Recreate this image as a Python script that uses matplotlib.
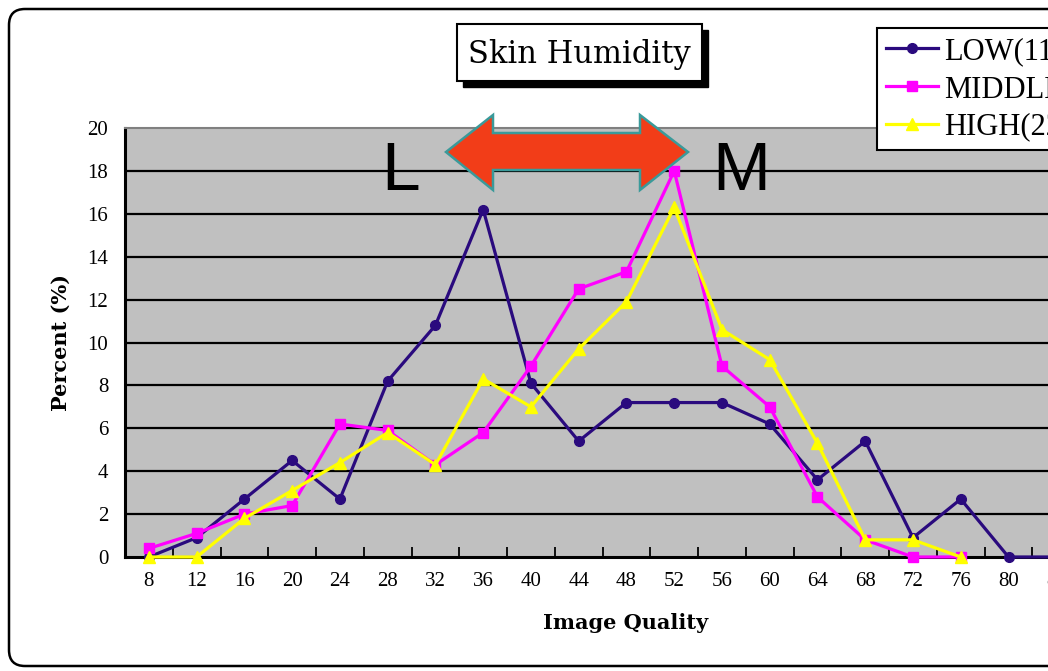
import matplotlib
matplotlib.use('Agg')
import matplotlib.pyplot as plt
import numpy as np
from matplotlib.patches import FancyBboxPatch, Rectangle, Polygon
from matplotlib.lines import Line2D
from matplotlib.transforms import IdentityTransform

# ---------------- data ----------------
categories = [8, 12, 16, 20, 24, 28, 32, 36, 40, 44, 48, 52, 56, 60, 64, 68, 72, 76, 80, 84]
low_values = [0.0, 0.9, 2.7, 4.5, 2.7, 8.2, 10.8, 16.2, 8.1, 5.4, 7.2, 7.2, 7.2, 6.2, 3.6, 5.4, 0.9, 2.7, 0.0, 0.0]
middle_values = [0.4, 1.1, 2.0, 2.4, 6.2, 5.9, 4.3, 5.8, 8.9, 12.5, 13.3, 18.0, 8.9, 7.0, 2.8, 0.8, 0.0, 0.0, np.nan, np.nan]
high_values = [0.0, 0.0, 1.8, 3.1, 4.4, 5.8, 4.3, 8.3, 7.0, 9.7, 11.9, 16.3, 10.6, 9.2, 5.3, 0.8, 0.8, 0.0, np.nan, np.nan]
series_labels = ["LOW(11)", "MIDDLE(24)", "HIGH(22)"]
y_ticks = [0, 2, 4, 6, 8, 10, 12, 14, 16, 18, 20]
title_text = "Skin Humidity"
x_label = "Image Quality"
y_label = "Percent (%)"

# ---------------- figure ----------------
W, H = 1048, 671
fig = plt.figure(figsize=(W / 100, H / 100), dpi=100)
fig.patch.set_facecolor('white')
ident = IdentityTransform()

def fx(px):
    return px / W

def fy(py):
    return 1 - py / H

# outer rounded frame (pixel coordinates, origin bottom-left)
frame = FancyBboxPatch((9, H - 666), 1300, 657,
                       boxstyle="round,pad=0,rounding_size=16",
                       transform=ident, facecolor='white', edgecolor='black',
                       linewidth=1.8, zorder=0)
fig.add_artist(frame)

# axes
ax_left, ax_top, ax_bottom = 125, 128, 557
cat_w = 47.7
ax_right = 150 - cat_w / 2 + cat_w * len(categories)
ax = fig.add_axes([fx(ax_left), fy(ax_bottom), (ax_right - ax_left) / W, (ax_bottom - ax_top) / H])
ax.set_facecolor('#C0C0C0')

x = np.arange(len(categories))
navy = '#2A0A7E'
ax.plot(x, low_values, color=navy, lw=2.3, marker='o', ms=7, label=series_labels[0], clip_on=False, zorder=3)
ax.plot(x, middle_values, color='#FF00FF', lw=2.3, marker='s', ms=7, label=series_labels[1], clip_on=False, zorder=4)
ax.plot(x, high_values, color='#FFFF00', lw=2.3, marker='^', ms=9, label=series_labels[2], clip_on=False, zorder=5)

ax.set_xlim(-0.5, len(categories) - 0.5)
ax.set_ylim(0, 20)
ax.set_yticks(y_ticks)
ax.set_yticklabels([str(v) for v in y_ticks], fontfamily='Liberation Serif', fontsize=15)
for v in y_ticks[1:-1]:
    ax.axhline(v, color='black', lw=1.6, zorder=1)

ax.set_xticks(x + 0.5)
ax.set_xticklabels([])
ax.set_xticks(x, minor=True)
ax.set_xticklabels([str(c) for c in categories], minor=True, fontfamily='Liberation Serif', fontsize=15)
ax.tick_params(axis='x', which='major', direction='in', length=7, width=1.3, color='black')
ax.tick_params(axis='x', which='minor', length=0, pad=11)
ax.tick_params(axis='y', direction='in', length=6, width=1.3, pad=12)

for s in ['left', 'bottom']:
    ax.spines[s].set_linewidth(2.2)
    ax.spines[s].set_color('black')
ax.spines['top'].set_color('#808080')
ax.spines['top'].set_linewidth(1.5)
ax.spines['right'].set_visible(False)

# axis labels
fig.text(fx(626), fy(623), x_label, ha='center', va='center', fontfamily='DejaVu Serif',
         fontweight='bold', fontsize=15)
fig.text(fx(61), fy(343), y_label, ha='center', va='center', rotation=90, fontfamily='DejaVu Serif',
         fontweight='bold', fontsize=15)

# title box with shadow
tx0, ty0, tx1, ty1 = 457, 24, 702, 81
fig.add_artist(Rectangle((tx0 + 6, H - ty1 - 6), tx1 - tx0, ty1 - ty0, transform=ident,
                         facecolor='black', edgecolor='black', zorder=5))
fig.add_artist(Rectangle((tx0, H - ty1), tx1 - tx0, ty1 - ty0, transform=ident,
                         facecolor='white', edgecolor='black', linewidth=1.5, zorder=6))
fig.text(fx((tx0 + tx1) / 2), fy(54), title_text, ha='center', va='center',
         fontfamily='DejaVu Serif', fontsize=22, zorder=7)

# double-headed arrow between L and M
arrow_pts = [(446, 152), (493, 115), (493, 133), (640, 133), (640, 115), (688, 152),
             (640, 190), (640, 170), (493, 170), (493, 190)]
arrow = Polygon([(px, H - py) for px, py in arrow_pts], closed=True, transform=ident,
                facecolor='#F23D18', edgecolor='#3A9A9A', linewidth=1.8, zorder=8)
fig.add_artist(arrow)
fig.text(fx(401), fy(190), "L", ha='center', va='baseline', fontfamily='Liberation Sans', fontsize=50, zorder=8)
fig.text(fx(741), fy(190), "M", ha='center', va='baseline', fontfamily='Liberation Sans', fontsize=50, zorder=8)

# legend
handles = [Line2D([], [], color=navy, lw=2.3, marker='o', ms=7),
           Line2D([], [], color='#FF00FF', lw=2.3, marker='s', ms=7),
           Line2D([], [], color='#FFFF00', lw=2.3, marker='^', ms=9)]
leg = fig.legend(handles, series_labels, loc='upper left', bbox_to_anchor=(fx(877), fy(28)),
                 borderaxespad=0, fancybox=False, frameon=True, edgecolor='black', framealpha=1,
                 prop={'family': 'Liberation Serif', 'size': 22}, handlelength=1.7,
                 handletextpad=0.2, labelspacing=0.28, borderpad=0.3)
leg.get_frame().set_linewidth(1.5)
leg.set_zorder(9)

fig.savefig('out.png', dpi=100)
